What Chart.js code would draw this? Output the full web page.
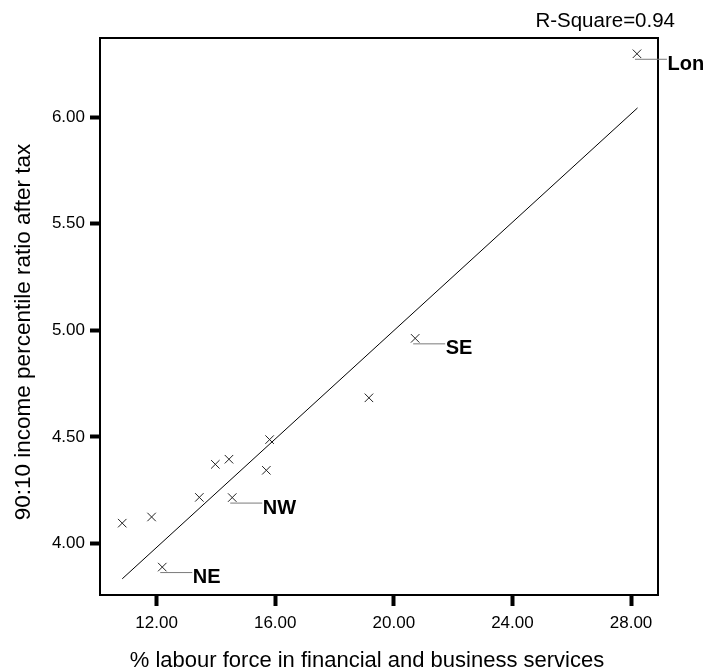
<!DOCTYPE html>
<html>
<head>
<meta charset="utf-8">
<script src="https://cdn.jsdelivr.net/npm/chart.js@4"></script>
<style>
  html, body { margin: 0; padding: 0; background: #fff; }
  #wrap { width: 706px; height: 671px; }
</style>
</head>
<body>
<div id="wrap"><canvas id="c" width="706" height="671"></canvas></div>
<script>
// ---- data ----
const regionLabels = ['', '', 'NE', '', 'NW', '', '', '', '', '', 'SE', 'Lon'];
const finBizShare  = [10.84, 11.83, 12.19, 13.44, 14.55, 13.98, 14.44, 15.81, 15.70, 19.16, 20.72, 28.20];
const ratio9010    = [4.095, 4.124, 3.889, 4.216, 4.215, 4.371, 4.395, 4.487, 4.343, 4.683, 4.962, 6.297];
const fitLineX     = [10.84, 28.22];
const fitLineY     = [3.834, 6.043];
const xTickValues  = [12, 16, 20, 24, 28];
const yTickValues  = [4.0, 4.5, 5.0, 5.5, 6.0];
const rSquareText  = 'R-Square=0.94';
const xTitle       = '% labour force in financial and business services';
const yTitle       = '90:10 income percentile ratio after tax';

const FONT = "'Liberation Sans', Arial, Helvetica, sans-serif";

const scatterData = finBizShare.map((x, i) => ({ x: x, y: ratio9010[i] }));
const fitData = fitLineX.map((x, i) => ({ x: x, y: fitLineY[i] }));

const decorPlugin = {
  id: 'decor',
  afterDraw(chart) {
    const ctx = chart.ctx;
    const a = chart.chartArea;
    const xs = chart.scales.x, ys = chart.scales.y;
    ctx.save();
    // frame
    ctx.strokeStyle = '#000';
    ctx.lineWidth = 2;
    ctx.strokeRect(a.left, a.top, a.right - a.left, a.bottom - a.top);
    // point labels with leader lines
    regionLabels.forEach((lab, i) => {
      if (!lab) return;
      const px = xs.getPixelForValue(finBizShare[i]);
      const py = ys.getPixelForValue(ratio9010[i]);
      ctx.strokeStyle = '#7a7a7a';
      ctx.lineWidth = 1;
      ctx.beginPath();
      ctx.moveTo(px - 2, py + 5.5);
      ctx.lineTo(px + 30, py + 5.5);
      ctx.stroke();
      ctx.fillStyle = '#000';
      ctx.font = 'bold 20px ' + FONT;
      ctx.textAlign = 'left';
      ctx.textBaseline = 'alphabetic';
      ctx.fillText(lab, px + 30.5, py + 16);
    });
    // R-square
    ctx.fillStyle = '#000';
    ctx.font = '20.5px ' + FONT;
    ctx.textAlign = 'right';
    ctx.textBaseline = 'alphabetic';
    ctx.fillText(rSquareText, 675, 27);
    // x title
    ctx.font = '22px ' + FONT;
    ctx.textAlign = 'center';
    ctx.fillText(xTitle, 367, 667);
    // y title
    ctx.translate(30, 332);
    ctx.rotate(-Math.PI / 2);
    ctx.textAlign = 'center';
    ctx.font = '22.5px ' + FONT;
    ctx.fillText(yTitle, 0, 0);
    ctx.restore();
  }
};

new Chart(document.getElementById('c'), {
  type: 'scatter',
  data: {
    datasets: [
      {
        type: 'line',
        data: fitData,
        borderColor: '#000',
        borderWidth: 1,
        pointRadius: 0,
        fill: false,
        tension: 0
      },
      {
        data: scatterData,
        pointStyle: 'crossRot',
        pointRadius: 6,
        pointHoverRadius: 6,
        borderColor: '#222',
        backgroundColor: '#222',
        borderWidth: 1
      }
    ]
  },
  options: {
    responsive: false,
    animation: false,
    events: [],
    layout: { padding: { top: 38, right: 48, left: 0, bottom: 0 } },
    plugins: {
      legend: { display: false },
      tooltip: { enabled: false },
      title: { display: false }
    },
    scales: {
      x: {
        type: 'linear',
        min: 10.09,
        max: 28.91,
        afterBuildTicks(scale) { scale.ticks = xTickValues.map(v => ({ value: v })); },
        afterFit(scale) { scale.height = 76; },
        grid: { drawOnChartArea: false, tickLength: 11, tickWidth: 4, tickColor: '#000' },
        border: { display: true, color: '#000', width: 2 },
        ticks: {
          padding: 7,
          color: '#000',
          font: { family: FONT, size: 17 },
          maxRotation: 0,
          callback: v => Number(v).toFixed(2)
        }
      },
      y: {
        type: 'linear',
        min: 3.758,
        max: 6.371,
        afterBuildTicks(scale) { scale.ticks = yTickValues.map(v => ({ value: v })); },
        afterFit(scale) { scale.width = 100; },
        grid: { drawOnChartArea: false, tickLength: 10, tickWidth: 4, tickColor: '#000' },
        border: { display: true, color: '#000', width: 2 },
        ticks: {
          padding: 5,
          color: '#000',
          font: { family: FONT, size: 17 },
          callback: v => Number(v).toFixed(2)
        }
      }
    }
  },
  plugins: [decorPlugin]
});
</script>
</body>
</html>
